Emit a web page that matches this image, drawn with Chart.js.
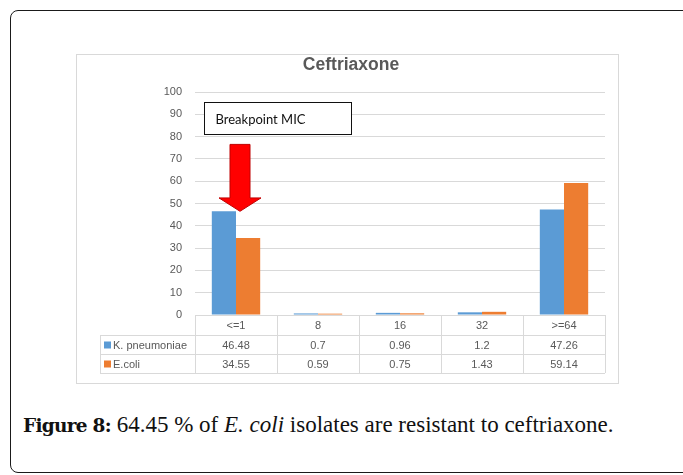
<!DOCTYPE html>
<html>
<head>
<meta charset="utf-8">
<script src="https://cdn.jsdelivr.net/npm/chart.js@4"></script>
<style>
  html, body { margin: 0; padding: 0; background: #fff; width: 683px; height: 475px; overflow: hidden; }
  #frame { position: absolute; left: 10px; top: 10px; width: 690px; height: 463px;
           border: 1.5px solid #1a1a1a; border-radius: 8px; box-sizing: border-box; }
  #panel { position: absolute; left: 76px; top: 54px; width: 543px; height: 330px;
           border: 1px solid #d9d9d9; box-sizing: border-box; background: #fff; }
  #chart { position: absolute; left: 77px; top: 55px; width: 541px; height: 328px; }
  #caption { position: absolute; left: 23px; top: 413px; font-family: "Liberation Serif", serif;
             font-size: 23px; line-height: 1; color: #111; white-space: nowrap; }
  #caption b { font-family: "DejaVu Serif", serif; font-size: 18.5px; letter-spacing: -0.7px; }
</style>
</head>
<body>
<div id="frame"></div>
<div id="panel"></div>
<canvas id="chart" width="541" height="328"></canvas>
<div id="caption"><b>Figure 8:</b> 64.45 % of <i>E. coli</i> isolates are resistant to ceftriaxone.</div>
<script>
// MIC categories and the percentage of isolates in each
const categories = ['<=1', '8', '16', '32', '>=64'];
const kPneumoniae = [46.48, 0.7, 0.96, 1.2, 47.26];
const eColi = [34.55, 0.59, 0.75, 1.43, 59.14];
const seriesNames = ['K. pneumoniae', 'E.coli'];
const seriesColors = ['#5b9bd5', '#ed7d31'];
const yTicks = [0, 10, 20, 30, 40, 50, 60, 70, 80, 90, 100];

const TEXT = '#595959';
const LINE = '#d9d9d9';
const FONT = '"Liberation Sans", Arial, sans-serif';

// Data table under the plot: header row of categories, one row per series
const dataTable = {
  id: 'dataTable',
  afterDraw(chart) {
    const ctx = chart.ctx;
    const area = chart.chartArea;
    const x = chart.scales.x;
    const n = categories.length;
    const colW = (area.right - area.left) / n;
    const rowY = [area.bottom, area.bottom + 20, area.bottom + 39, area.bottom + 58];
    const labelLeft = 23;
    const series = [kPneumoniae, eColi];

    ctx.save();
    ctx.strokeStyle = LINE;
    ctx.lineWidth = 1;
    ctx.beginPath();
    ctx.moveTo(area.left, rowY[0] + 0.5); ctx.lineTo(area.right, rowY[0] + 0.5);
    for (let r = 1; r < rowY.length; r++) {
      ctx.moveTo(labelLeft, rowY[r] + 0.5); ctx.lineTo(area.right, rowY[r] + 0.5);
    }
    for (let i = 0; i <= n; i++) {
      const bx = Math.round(area.left + i * colW) + 0.5;
      ctx.moveTo(bx, rowY[0]); ctx.lineTo(bx, rowY[3]);
    }
    ctx.moveTo(labelLeft + 0.5, rowY[1]); ctx.lineTo(labelLeft + 0.5, rowY[3]);
    ctx.stroke();

    ctx.fillStyle = TEXT;
    ctx.font = '11px ' + FONT;
    ctx.textAlign = 'center';
    ctx.textBaseline = 'middle';
    categories.forEach((c, i) => {
      const cx = x.getPixelForValue(i);
      ctx.fillText(c, cx, (rowY[0] + rowY[1]) / 2 + 1);
      series.forEach((s, k) => {
        ctx.fillText(String(s[i]), cx, (rowY[k + 1] + rowY[k + 2]) / 2 + 1);
      });
    });

    ctx.textAlign = 'left';
    seriesNames.forEach((name, k) => {
      const my = (rowY[k + 1] + rowY[k + 2]) / 2;
      ctx.fillStyle = seriesColors[k];
      ctx.fillRect(labelLeft + 4, my - 3, 7, 7);
      ctx.fillStyle = TEXT;
      ctx.fillText(name, labelLeft + 13, my + 1);
    });
    ctx.restore();
  }
};

// "Breakpoint MIC" callout with a red arrow pointing down at the first category
const breakpoint = {
  id: 'breakpoint',
  afterDatasetsDraw(chart) {
    const ctx = chart.ctx;
    const area = chart.chartArea;
    const x = chart.scales.x;
    const y = chart.scales.y;

    const bx = area.left + 9.5, bw = 147;
    const by = Math.round(y.getPixelForValue(95.5)) + 0.5;
    const bh = Math.round(y.getPixelForValue(81) - by);
    ctx.save();
    ctx.fillStyle = '#fff';
    ctx.fillRect(bx, by, bw, bh);
    ctx.strokeStyle = '#111';
    ctx.lineWidth = 1;
    ctx.strokeRect(bx, by, bw, bh);
    ctx.fillStyle = '#111';
    ctx.font = '13px Lato, "Liberation Sans", sans-serif';
    ctx.textBaseline = 'middle';
    ctx.fillText('Breakpoint MIC', bx + 11, by + bh / 2 + 1);

    const cx = x.getPixelForValue(0) + 4;
    const top = y.getPixelForValue(76.5);
    const base = y.getPixelForValue(52.5);
    const tip = y.getPixelForValue(46.5);
    ctx.beginPath();
    ctx.moveTo(cx - 10, top);
    ctx.lineTo(cx + 10, top);
    ctx.lineTo(cx + 10, base);
    ctx.lineTo(cx + 21, base);
    ctx.lineTo(cx, tip);
    ctx.lineTo(cx - 21, base);
    ctx.lineTo(cx - 10, base);
    ctx.closePath();
    ctx.fillStyle = '#ff0000';
    ctx.fill();
    ctx.strokeStyle = '#c00000';
    ctx.stroke();
    ctx.restore();
  }
};

new Chart(document.getElementById('chart'), {
  type: 'bar',
  data: {
    labels: categories,
    datasets: [
      { label: seriesNames[0], data: kPneumoniae, backgroundColor: seriesColors[0] },
      { label: seriesNames[1], data: eColi, backgroundColor: seriesColors[1] }
    ]
  },
  options: {
    responsive: false,
    animation: false,
    devicePixelRatio: 1,
    datasets: { bar: { categoryPercentage: 0.59, barPercentage: 1.0 } },
    layout: { padding: { left: 20, right: 13, top: 0, bottom: 68 } },
    plugins: {
      legend: { display: false },
      tooltip: { enabled: false },
      title: {
        display: true,
        text: 'Ceftriaxone',
        color: TEXT,
        font: { family: FONT, size: 17.5, weight: 'bold', lineHeight: 1.2 },
        padding: { top: 0, bottom: 16 }
      }
    },
    scales: {
      x: {
        display: false,
        offset: true,
        grid: { display: false }
      },
      y: {
        min: 0,
        max: 100,
        border: { display: false },
        grid: { color: LINE, drawTicks: false, lineWidth: 1 },
        afterFit(scale) { scale.width = 98; },
        afterBuildTicks(scale) { scale.ticks = yTicks.map(v => ({ value: v })); },
        ticks: { color: TEXT, padding: 13, font: { family: FONT, size: 11 } }
      }
    }
  },
  plugins: [breakpoint, dataTable]
});
</script>
</body>
</html>
